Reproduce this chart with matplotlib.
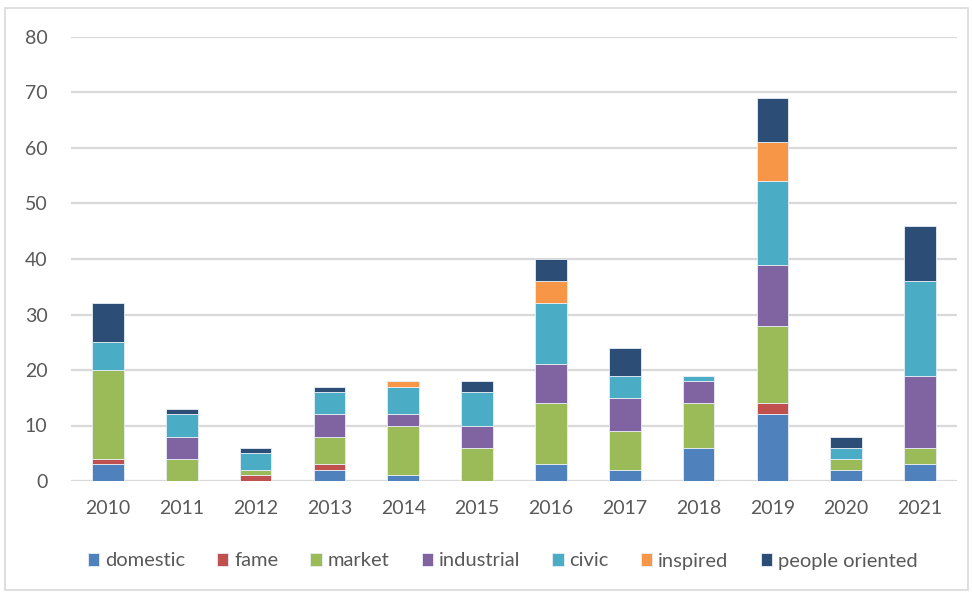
import matplotlib.pyplot as plt
import numpy as np
from matplotlib.patches import Rectangle

plt.rcParams['font.family'] = ['Lato', 'DejaVu Sans']

years = ['2010', '2011', '2012', '2013', '2014', '2015',
         '2016', '2017', '2018', '2019', '2020', '2021']

domestic = [3, 0, 0, 2, 1, 0, 3, 2, 6, 12, 2, 3]
fame = [1, 0, 1, 1, 0, 0, 0, 0, 0, 2, 0, 0]
market = [16, 4, 1, 5, 9, 6, 11, 7, 8, 14, 2, 3]
industrial = [0, 4, 0, 4, 2, 4, 7, 6, 4, 11, 0, 13]
civic = [5, 4, 3, 4, 5, 6, 11, 4, 1, 15, 2, 17]
inspired = [0, 0, 0, 0, 1, 0, 4, 0, 0, 7, 0, 0]
people_oriented = [7, 1, 1, 1, 0, 2, 4, 5, 0, 8, 2, 10]

series = [
    ('domestic', domestic, '#4F81BD'),
    ('fame', fame, '#C0504D'),
    ('market', market, '#9BBB59'),
    ('industrial', industrial, '#8064A2'),
    ('civic', civic, '#4BACC6'),
    ('inspired', inspired, '#F79646'),
    ('people oriented', people_oriented, '#2C4D75'),
]

fig = plt.figure(figsize=(9.72, 5.95), dpi=100)
ax = fig.add_axes([71 / 972, 1 - 481 / 595, 886 / 972, 444 / 595])

# outer chart frame
fig.patches.append(Rectangle((5 / 972, 5 / 595), 963 / 972, 582 / 595,
                             transform=fig.transFigure, fill=False,
                             edgecolor='#D9D9D9', linewidth=1.2))

x = np.arange(len(years))
bottom = np.zeros(len(years))
for name, vals, color in series:
    vals = np.array(vals, dtype=float)
    ax.bar(x, vals, width=0.43, bottom=bottom, color=color, label=name,
           edgecolor='#E8EEF6', linewidth=0.6, zorder=3)
    bottom += vals

ax.set_xlim(-0.5, len(years) - 0.5)
ax.set_ylim(0, 80)
ax.set_yticks(range(0, 81, 10))
ax.set_xticks(x)
ax.set_xticklabels(years)
ax.yaxis.grid(True, color='#D9D9D9', linewidth=1.6, zorder=0)
ax.set_axisbelow(True)
for s in ax.spines.values():
    s.set_visible(False)
ax.tick_params(axis='both', length=0, labelsize=14, colors='#595959')
ax.tick_params(axis='y', pad=17)
ax.tick_params(axis='x', pad=14)

fig.legend(loc='center', bbox_to_anchor=(0.517, 1 - 561 / 595), ncol=7,
           frameon=False, fontsize=14.5, handlelength=0.55, handleheight=0.6,
           handletextpad=0.3, columnspacing=1.6, labelcolor='#595959')

fig.savefig('out.png', dpi=100)
